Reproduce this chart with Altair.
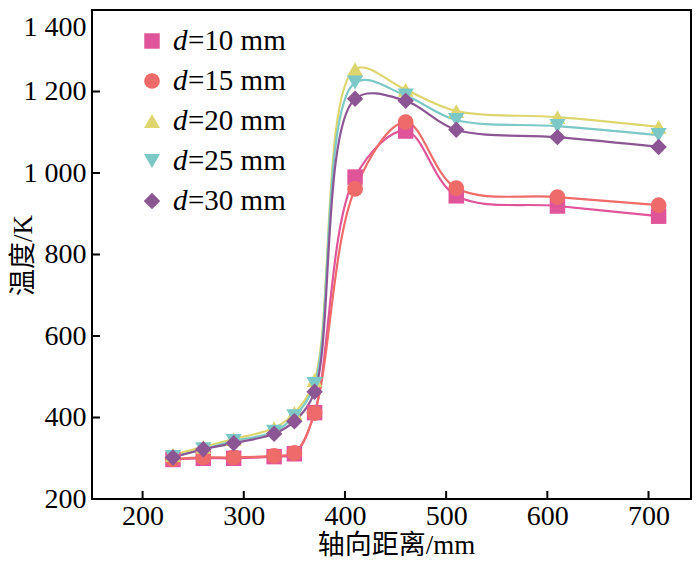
import altair as alt
import pandas as pd

# ---- data ----
x_mm = [230, 260, 290, 330, 350, 370, 410, 460, 510, 610, 710]
series = ["d=10 mm", "d=15 mm", "d=20 mm", "d=25 mm", "d=30 mm"]
t_d10 = [297, 300, 300, 304, 311, 412, 990, 1103, 944, 919, 894]
t_d15 = [298, 302, 302, 306, 313, 411, 961, 1125, 963, 941, 921]
t_d20 = [308, 328, 347, 374, 411, 492, 1255, 1204, 1152, 1137, 1113]
t_d25 = [303, 322, 342, 365, 403, 482, 1222, 1190, 1130, 1115, 1093]
t_d30 = [302, 322, 337, 360, 391, 463, 1182, 1177, 1106, 1088, 1064]
x_ticks = [200, 300, 400, 500, 600, 700]
y_ticks = [200, 400, 600, 800, 1000, 1200, 1400]

colors = ["#E0559A", "#EF6B69", "#DDD66E", "#7BC8C6", "#8C5593"]
shapes = ["square", "circle", "triangle-up", "triangle-down", "diamond"]
sizes = [240, 270, 400, 360, 400]

rows = []
for name, vals in zip(series, [t_d10, t_d15, t_d20, t_d25, t_d30]):
    for xv, tv in zip(x_mm, vals):
        rows.append({"series": name, "x": xv, "T": tv})
df = pd.DataFrame(rows)

W, H = 599, 489
serif = "Liberation Serif"
cjk = "Liberation Serif, Noto Sans CJK SC"

color_enc = alt.Color("series:N", scale=alt.Scale(domain=series, range=colors), legend=None)
shape_enc = alt.Shape("series:N", scale=alt.Scale(domain=series, range=shapes), legend=None)
size_enc = alt.Size("series:N", scale=alt.Scale(domain=series, range=sizes), legend=None)

xscale = alt.Scale(domain=[150, 742], nice=False, zero=False)
yscale = alt.Scale(domain=[200, 1400], nice=False, zero=False)

xaxis = alt.Axis(values=x_ticks, title="轴向距离/mm", titleFont=cjk,
                 titleFontSize=27, titleFontWeight="normal", titleColor="black",
                 titleX=304, titleY=33, titleBaseline="top",
                 labelFont=serif, labelFontSize=28, labelColor="black",
                 labelPadding=3, labelFlush=False, ticks=False, domain=False,
                 grid=False)
yaxis = alt.Axis(values=y_ticks, title="温度/K", titleFont=cjk,
                 titleFontSize=27, titleFontWeight="normal", titleColor="black",
                 titleX=-69, titleY=245, titleAngle=270, titleAlign="center",
                 titleBaseline="middle",
                 labelExpr="replace(format(datum.value, ','), ',', ' ')",
                 labelBaseline={"condition": {"test": "datum.value == 1400", "value": "top"},
                                "value": "middle"},
                 labelOffset={"condition": {"test": "datum.value == 1400", "value": 3},
                              "value": 0},
                 labelFont=serif, labelFontSize=28, labelColor="black",
                 labelPadding=6, labelFlush=False, ticks=False, domain=False,
                 grid=False)

base = alt.Chart(df)

lines = base.mark_line(interpolate="catmull-rom", strokeWidth=2.2).encode(
    x=alt.X("x:Q", scale=xscale, axis=xaxis),
    y=alt.Y("T:Q", scale=yscale, axis=yaxis),
    color=color_enc,
    detail="series:N",
)

points = base.mark_point(filled=True, opacity=1).encode(
    x=alt.X("x:Q", scale=xscale, axis=xaxis),
    y=alt.Y("T:Q", scale=yscale, axis=yaxis),
    color=color_enc,
    shape=shape_enc,
    size=size_enc,
)

xt = alt.Chart(pd.DataFrame({"v": x_ticks})).mark_rule(color="black", strokeWidth=2).encode(
    x=alt.X("v:Q", scale=xscale, axis=xaxis),
    y=alt.value(H), y2=alt.value(H - 8),
)
yt = alt.Chart(pd.DataFrame({"v": y_ticks})).mark_rule(color="black", strokeWidth=2).encode(
    y=alt.Y("v:Q", scale=yscale, axis=yaxis),
    x=alt.value(0), x2=alt.value(8),
)

main = alt.layer(lines, points, xt, yt)

# ---- legend (italic d) ----
leg = pd.DataFrame({"series": series, "rest": [s[1:] for s in series]})
ly = alt.Y("series:N", sort=series, scale=alt.Scale(range=[31, 191], padding=0), axis=None)
leg_pts = alt.Chart(leg).mark_point(filled=True, opacity=1).encode(
    x=alt.value(60), y=ly, color=color_enc, shape=shape_enc, size=size_enc,
)
leg_d = alt.Chart(leg).mark_text(font=serif, fontStyle="italic", fontSize=29,
                                  align="left", baseline="middle", color="black").encode(
    x=alt.value(81), y=ly, text=alt.value("d"),
)
leg_rest = alt.Chart(leg).mark_text(font=serif, fontSize=29,
                                     align="left", baseline="middle", color="black").encode(
    x=alt.value(96), y=ly, text="rest:N",
)
legend = alt.layer(leg_pts, leg_d, leg_rest)

chart = alt.layer(main, legend).resolve_scale(y="independent").properties(
    width=W, height=H,
    autosize=alt.AutoSizeParams(type="none"),
    padding={"left": 84, "top": 2, "right": 1, "bottom": 60},
    background="white",
).configure_view(stroke="black", strokeWidth=2)

chart.save("out.html", embed_options={"renderer": "svg", "actions": False})
